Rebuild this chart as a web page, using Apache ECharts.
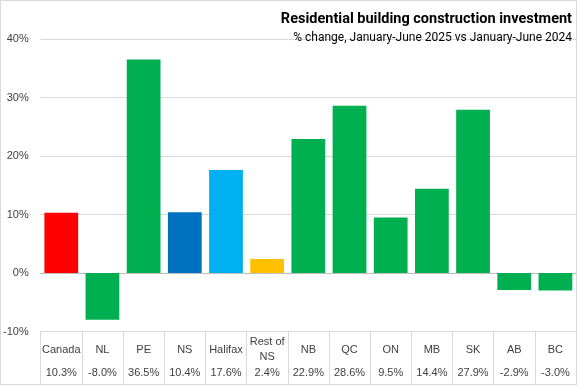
<!DOCTYPE html>
<html><head><meta charset="utf-8">
<script src="https://cdn.jsdelivr.net/npm/echarts@6/dist/echarts.min.js"></script>
<style>html,body{margin:0;padding:0;background:#fff}#c{width:577px;height:385px}</style>
</head><body><div id="c"></div>
<script>
const categories = ['Canada','NL','PE','NS','Halifax','Rest of\nNS','NB','QC','ON','MB','SK','AB','BC'];
const values = [10.3, -8.0, 36.5, 10.4, 17.6, 2.4, 22.9, 28.6, 9.5, 14.4, 27.9, -2.9, -3.0];
const barColors = ['#FF0000','#00B050','#00B050','#0070C0','#00B0F0','#FFC000','#00B050','#00B050','#00B050','#00B050','#00B050','#00B050','#00B050'];
const yTicks = [-10, 0, 10, 20, 30, 40];
const titleText = 'Residential building construction investment';
const subtitleText = '% change, January-June 2025 vs January-June 2024';

const chart = echarts.init(document.getElementById('c'), null, {renderer:'canvas'});
const font = 'Liberation Sans';
chart.setOption({
  animation:false,
  backgroundColor:'#fff',
  title:[
    {text:titleText, right:5, top:12, padding:0,
     textStyle:{fontFamily:'Roboto', fontWeight:'bold', fontSize:14.5, color:'#000'}},
    {text:subtitleText, right:5, top:32, padding:0,
     textStyle:{fontFamily:'Roboto', fontWeight:'normal', fontSize:12, color:'#000'}}
  ],
  graphic:[{type:'rect', shape:{x:0.5,y:0.5,width:576,height:384}, style:{fill:'none', stroke:'#d9d9d9', lineWidth:1}, silent:true}],
  grid:{left:38, right:1, top:39, bottom:53.5, containLabel:false},
  xAxis:[
    {type:'category', data:categories, axisLine:{onZero:true, lineStyle:{color:'#bfbfbf'}}, axisTick:{show:false}, axisLabel:{show:false}},
    {type:'category', data:categories, position:'bottom', axisLine:{show:false, onZero:false},
     axisTick:{show:true, length:53, interval:0, lineStyle:{color:'#d9d9d9'}},
     axisLabel:{interval:0, margin:18, verticalAlign:'middle', lineHeight:15, fontFamily:font, fontSize:11, color:'#404040'}},
    {type:'category', data:values.map(v=>v.toFixed(1)+'%'), position:'bottom', axisLine:{show:false, onZero:false},
     axisTick:{show:false},
     axisLabel:{interval:0, margin:41, verticalAlign:'middle', fontFamily:font, fontSize:11, color:'#404040'}}
  ],
  yAxis:{type:'value', min:yTicks[0], max:yTicks[yTicks.length-1], interval:10,
    axisLine:{show:false}, axisTick:{show:false},
    splitLine:{lineStyle:{color:'#d9d9d9'}},
    axisLabel:{formatter:v=>v+'%', fontFamily:font, fontSize:11, color:'#404040', margin:12}},
  series:[{type:'bar', xAxisIndex:0, barCategoryGap:'18%',
    data:values.map((v,i)=>({value:v, itemStyle:{color:barColors[i]}}))}]
});
</script></body></html>
